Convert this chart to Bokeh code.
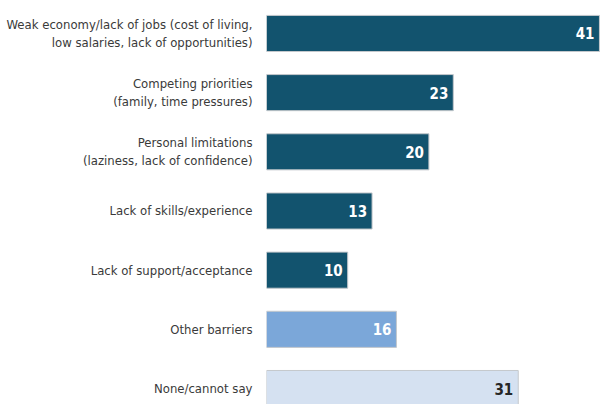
from bokeh.plotting import figure
from bokeh.models import ColumnDataSource, Range1d, FixedTicker
from bokeh.core.properties import value
from bokeh.embed import file_html
from bokeh.resources import INLINE

categories = [
    "Weak economy/lack of jobs (cost of living,\nlow salaries, lack of opportunities)",
    "Competing priorities\n(family, time pressures)",
    "Personal limitations\n(laziness, lack of confidence)",
    "Lack of skills/experience",
    "Lack of support/acceptance",
    "Other barriers",
    "None/cannot say",
]
values = [41, 23, 20, 13, 10, 16, 31]
bar_colors = ["#12536e", "#12536e", "#12536e", "#12536e", "#12536e", "#7ba7d9", "#d5e1f1"]
label_colors = ["#ffffff", "#ffffff", "#ffffff", "#ffffff", "#ffffff", "#ffffff", "#262626"]

n = len(categories)
ypos = [n - 1 - i for i in range(n)]

src = ColumnDataSource(dict(y=ypos, v=values, c=bar_colors, lc=label_colors,
                            t=[str(v) for v in values]))

FONT = "DejaVu Sans Condensed"

p = figure(width=603, height=404, output_backend="svg", toolbar_location=None,
           x_range=Range1d(0, 41.5), y_range=Range1d(-0.27, n - 1 + 0.557),
           min_border_left=266, min_border_right=0, min_border_top=0, min_border_bottom=0)
p.outline_line_color = None
p.grid.visible = False
p.xaxis.visible = False

p.hbar(y="y", left=0, right="v", height=0.61, fill_color="c", line_color="#c4c8cc",
       line_width=1, source=src)
p.text(x="v", y="y", text="t", x_offset=-5, text_align="right", text_baseline="middle",
       text_color="lc", text_font=value(FONT), text_font_style="bold",
       text_font_size="15px", source=src)

yaxis = p.yaxis[0]
yaxis.ticker = FixedTicker(ticks=ypos)
yaxis.major_label_overrides = {y: c for y, c in zip(ypos, categories)}
yaxis.axis_line_color = None
yaxis.major_tick_line_color = None
yaxis.minor_tick_line_color = None
yaxis.major_tick_out = 0
yaxis.major_label_standoff = 14
yaxis.major_label_text_font = FONT
yaxis.major_label_text_font_size = "13px"
yaxis.major_label_text_color = "#3a3a3a"
yaxis.major_label_text_align = "right"

open("out.html", "w").write(file_html(p, INLINE))
